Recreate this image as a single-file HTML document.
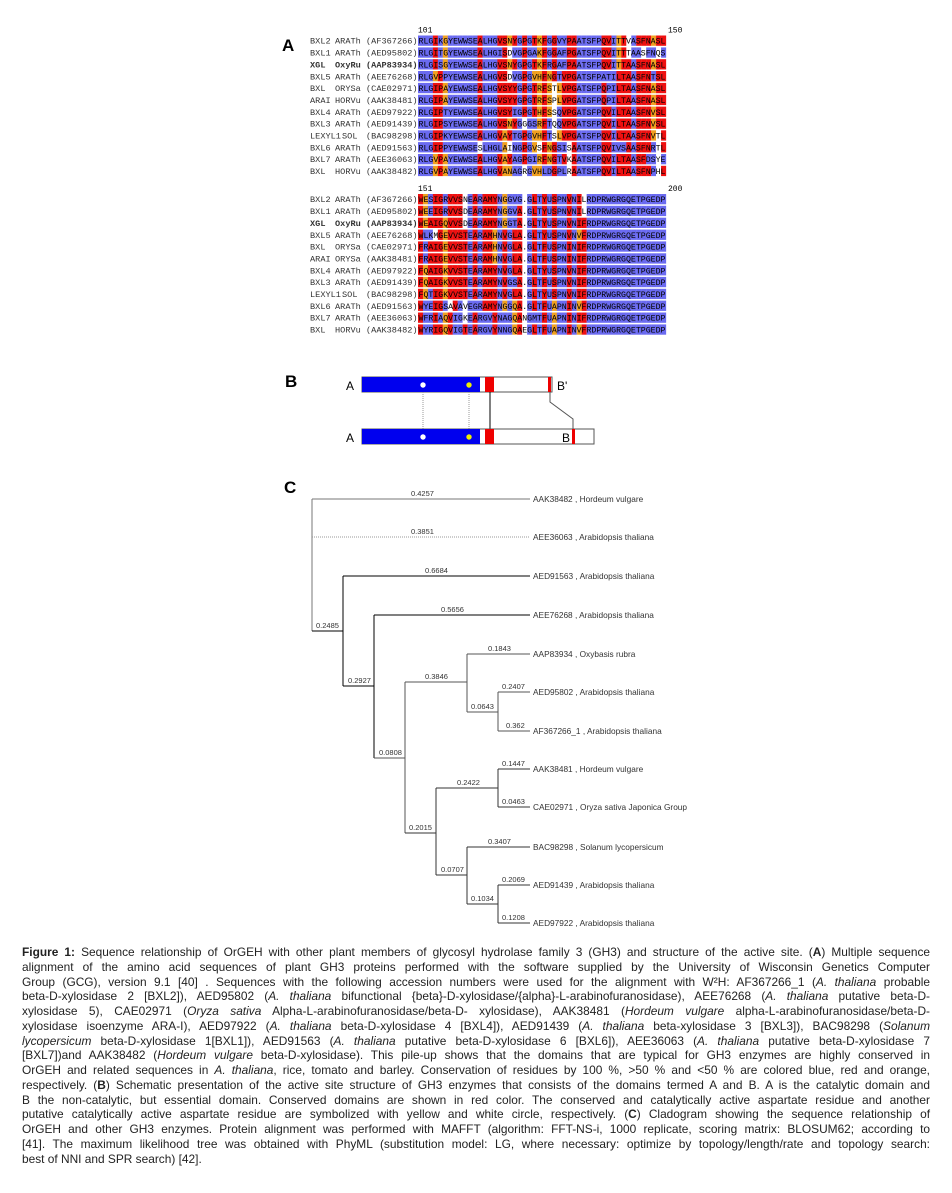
<!DOCTYPE html>
<html><head><meta charset="utf-8"><style>
body{margin:0;background:#fff;width:952px;height:1193px;position:relative;overflow:hidden;font-family:"Liberation Sans",sans-serif}
.cap{position:absolute;left:22px;width:908px;top:945px;font-size:11.9px;line-height:14.75px;color:#222}
.cap div{text-align:justify;text-align-last:justify;white-space:nowrap;overflow:visible}
.cap div.l{text-align-last:left}
.lbl{position:absolute;font-weight:bold;font-size:17px;font-family:"Liberation Sans",sans-serif}
</style></head><body>
<div class="lbl" style="left:282px;top:36px">A</div>
<div class="lbl" style="left:285px;top:372px">B</div>
<div class="lbl" style="left:284px;top:478px">C</div>
<svg id="aln" width="952" height="340" style="position:absolute;left:0;top:0" font-family="Liberation Mono,monospace" font-size="8.6"></svg>

<svg width="952" height="1193" style="position:absolute;left:0;top:0" font-family="Liberation Sans,sans-serif">
<g>
<text x="346" y="390" font-size="12">A</text>
<rect x="362" y="377" width="190" height="15" fill="#fff" stroke="#555"/>
<rect x="362" y="377" width="118" height="15" fill="#0000ee"/>
<rect x="485" y="377" width="9" height="15" fill="#ee0000"/>
<rect x="548" y="377" width="3" height="15" fill="#ee0000"/>
<circle cx="423" cy="385" r="2.7" fill="#fff"/><circle cx="469" cy="385" r="2.7" fill="#ee0"/>
<text x="557" y="390" font-size="12">B'</text>
<line x1="423" y1="392" x2="423" y2="429" stroke="#999" stroke-dasharray="1,1"/>
<line x1="469" y1="392" x2="469" y2="429" stroke="#999" stroke-dasharray="1,1"/>
<line x1="490" y1="392" x2="490" y2="429" stroke="#000"/>
<polyline points="550,392 550,402 573,419 573,429" fill="none" stroke="#555"/>
<text x="346" y="442" font-size="12">A</text>
<rect x="362" y="429" width="232" height="15" fill="#fff" stroke="#555"/>
<rect x="362" y="429" width="118" height="15" fill="#0000ee"/>
<rect x="485" y="429" width="9" height="15" fill="#ee0000"/>
<rect x="572" y="429" width="3" height="15" fill="#ee0000"/>
<circle cx="423" cy="437" r="2.7" fill="#fff"/><circle cx="469" cy="437" r="2.7" fill="#ee0"/>
<text x="562" y="442" font-size="12">B</text>
</g>
<g stroke-width="1" fill="none">
<path d="M312 499 V631 M312 499 H530" stroke="#777"/>
<path d="M312 537 H530" stroke="#999" stroke-dasharray="1,1"/>
<path d="M312 631 H343 M343 576 V686 M343 576 H530 M343 686 H374 M374 615 V758 M374 615 H530" stroke="#000"/>
<path d="M374 758 H405 M405 682 V833 M405 682 H467 M467 654 V712 M467 654 H530 M467 712 H498 M498 692 V731 M498 692 H530 M498 731 H530" stroke="#555"/>
<path d="M405 833 H436 M436 788 V875 M436 788 H498 M498 769 V807 M498 769 H530 M498 807 H530 M436 875 H467 M467 847 V904 M467 847 H530 M467 904 H498 M498 885 V923 M498 885 H530 M498 923 H530" stroke="#333"/>
</g>
<g font-size="7.5" fill="#333">
<text x="411" y="496">0.4257</text><text x="411" y="534">0.3851</text>
<text x="425" y="573">0.6684</text><text x="441" y="612">0.5656</text>
<text x="316" y="628">0.2485</text><text x="348" y="683">0.2927</text>
<text x="425" y="679">0.3846</text><text x="488" y="651">0.1843</text>
<text x="502" y="689">0.2407</text><text x="471" y="709">0.0643</text>
<text x="506" y="728">0.362</text><text x="379" y="755">0.0808</text>
<text x="502" y="766">0.1447</text><text x="457" y="785">0.2422</text>
<text x="502" y="804">0.0463</text><text x="409" y="830">0.2015</text>
<text x="488" y="844">0.3407</text><text x="441" y="872">0.0707</text>
<text x="502" y="882">0.2069</text><text x="471" y="901">0.1034</text>
<text x="502" y="920">0.1208</text>
</g>
<g font-size="8.3" fill="#333">
<text x="533" y="502">AAK38482 ,  Hordeum vulgare</text>
<text x="533" y="540">AEE36063 ,  Arabidopsis thaliana</text>
<text x="533" y="579">AED91563 ,  Arabidopsis thaliana</text>
<text x="533" y="618">AEE76268 ,  Arabidopsis thaliana</text>
<text x="533" y="657">AAP83934 ,  Oxybasis rubra</text>
<text x="533" y="695">AED95802 ,  Arabidopsis thaliana</text>
<text x="533" y="734">AF367266_1 ,  Arabidopsis thaliana</text>
<text x="533" y="772">AAK38481 ,  Hordeum vulgare</text>
<text x="533" y="810">CAE02971 ,  Oryza sativa Japonica Group</text>
<text x="533" y="850">BAC98298 ,  Solanum lycopersicum</text>
<text x="533" y="888">AED91439 ,  Arabidopsis thaliana</text>
<text x="533" y="926">AED97922 ,  Arabidopsis thaliana</text>
</g>
</svg>

<div class="cap">
<div><b>Figure 1:</b> Sequence relationship of OrGEH with other plant members of glycosyl hydrolase family 3 (GH3) and structure of the active site. (<b>A</b>) Multiple sequence</div>
<div>alignment of the amino acid sequences of plant GH3 proteins performed with the software supplied by the University of Wisconsin Genetics Computer</div>
<div>Group (GCG), version 9.1 [40] . Sequences with the following accession numbers were used for the alignment with W²H: AF367266_1 (<i>A. thaliana</i> probable</div>
<div>beta-D-xylosidase 2 [BXL2]), AED95802 (<i>A. thaliana</i> bifunctional {beta}-D-xylosidase/{alpha}-L-arabinofuranosidase), AEE76268 (<i>A. thaliana</i> putative beta-D-</div>
<div>xylosidase 5), CAE02971 (<i>Oryza sativa</i> Alpha-L-arabinofuranosidase/beta-D- xylosidase), AAK38481 (<i>Hordeum vulgare</i> alpha-L-arabinofuranosidase/beta-D-</div>
<div>xylosidase isoenzyme ARA-I), AED97922 (<i>A. thaliana</i> beta-D-xylosidase 4 [BXL4]), AED91439 (<i>A. thaliana</i> beta-xylosidase 3 [BXL3]), BAC98298 (<i>Solanum</i></div>
<div><i>lycopersicum</i> beta-D-xylosidase 1[BXL1]), AED91563 (<i>A. thaliana</i> putative beta-D-xylosidase 6 [BXL6]), AEE36063 (<i>A. thaliana</i> putative beta-D-xylosidase 7</div>
<div>[BXL7])and AAK38482 (<i>Hordeum vulgare</i> beta-D-xylosidase). This pile-up shows that the domains that are typical for GH3 enzymes are highly conserved in</div>
<div>OrGEH and related sequences in <i>A. thaliana</i>, rice, tomato and barley. Conservation of residues by 100 %, &gt;50 % and &lt;50 % are colored blue, red and orange,</div>
<div>respectively. (<b>B</b>) Schematic presentation of the active site structure of GH3 enzymes that consists of the domains termed A and B. A is the catalytic domain and</div>
<div>B the non-catalytic, but essential domain. Conserved domains are shown in red color. The conserved and catalytically active aspartate residue and another</div>
<div>putative catalytically active aspartate residue are symbolized with yellow and white circle, respectively. (<b>C</b>) Cladogram showing the sequence relationship of</div>
<div>OrGEH and other GH3 enzymes. Protein alignment was performed with MAFFT (algorithm: FFT-NS-i, 1000 replicate, scoring matrix: BLOSUM62; according to</div>
<div>[41]. The maximum likelihood tree was obtained with PhyML (substitution model: LG, where necessary: optimize by topology/length/rate and topology search:</div>
<div class="l">best of NNI and SPR search) [42].</div>
</div>

<script>
var names1=[["BXL2","ARATh","(AF367266)"],["BXL1","ARATh","(AED95802)"],["XGL","OxyRu","(AAP83934)"],["BXL5","ARATh","(AEE76268)"],["BXL","ORYSa","(CAE02971)"],["ARAI","HORVu","(AAK38481)"],["BXL4","ARATh","(AED97922)"],["BXL3","ARATh","(AED91439)"],["LEXYL1","SOL","(BAC98298)"],["BXL6","ARATh","(AED91563)"],["BXL7","ARATh","(AEE36063)"],["BXL","HORVu","(AAK38482)"]];
var names2=names1.slice();names2[5]=["ARAI","ORYSa","(AAK38481)"];
var s1=["RLGIKGYEWWSEALHGVSNYGPGTKFGGVYPAATSFPQVITTVASFNASL",
"RLGITGYEWWSEALHGISDVGPGAKFGGAFPGATSFPQVITTTAASFNQS",
"RLGISGYEWWSEALHGVSNYGPGTKFRGAFPAATSFPQVITTAASFNASL",
"RLGVPPYEWWSEALHGVSDVGPGVHFNGTVPGATSFPATILTAASFNTSL",
"RLGIPAYEWWSEALHGVSYYGPGTRFSTLVPGATSFPQPILTAASFNASL",
"RLGIPAYEWWSEALHGVSYYGPGTRFSPLVPGATSFPQPILTAASFNASL",
"RLGIPTYEWWSEALHGVSYIGPGTHFSSQVPGATSFPQVILTAASFNVSL",
"RLGIPSYEWWSEALHGVSNYGGGSRFTQQVPGATSFPQVILTAASFNVSL",
"RLGIPKYEWWSEALHGVAYTGPGVHFTSLVPGATSFPQVILTAASFNVTL",
"RLGIPPYEWWSESLHGLAINGPGVSFNGSISAATSFPQVIVSAASFNRTL",
"RLGVPAYEWWSEALHGVAYAGPGIRFNGTVKAATSFPQVILTAASFDSYE",
"RLGVPAYEWWSEALHGVANAGRGVHLDGPLRAATSFPQVILTAASFNPHL"];
var s2=["WESIGRVVSNEARAMYNGGVG.GLTYUSPNVNILRDPRWGRGQETPGEDP",
"WEEIGRVVSDEARAMYNGGVA.GLTYUSPNVNILRDPRWGRGQETPGEDP",
"WEAIGQVVSDEARAMYNGGTA.GLTYUSPNVNIFRDPRWGRGQETPGEDP",
"WLKMGEVVSTEARAMHNVGLA.GLTYUSPNVNVFRDPRWGRGQETPGEDP",
"FRAIGEVVSTEARAMHNVGLA.GLTFUSPNINIFRDPRWGRGQETPGEDP",
"FRAIGEVVSTEARAMHNVGLA.GLTFUSPNINIFRDPRWGRGQETPGEDP",
"FQAIGKVVSTEARAMYNVGLA.GLTYUSPNVNIFRDPRWGRGQETPGEDP",
"FQAIGKVVSTEARAMYNVGSA.GLTFUSPNVNIFRDPRWGRGQETPGEDP",
"FQTIGKVVSTEARAMYNVGLA.GLTYUSPNVNIFRDPRWGRGQETPGEDP",
"WYEIGSAVAVEGRAMYNGGQA.GLTFUAPNINVFRDPRWGRGQETPGEDP",
"WFRIAQVIGKEARGVYNAGQANGMTFUAPNINIFRDPRWGRGQETPGEDP",
"WYRIGQVIGTEARGVYNNGQAEGLTFUAPNINVFRDPRWGRGQETPGEDP"];
var svg=document.getElementById('aln'),h='';
function block(names,seqs,top,n0,n1){
 var cw=4.96,rh=11.85,x0=418;
 h+='<text x="418" y="'+(top-3)+'" font-size="8">'+n0+'</text><text x="668" y="'+(top-3)+'" font-size="8">'+n1+'</text>';
 for(var c=0;c<50;c++){
  var cnt={};seqs.forEach(function(s){var ch=s[c]||'.';cnt[ch]=(cnt[ch]||0)+1;});
  seqs.forEach(function(s,r){var ch=s[c]||'.';var k=cnt[ch];var col=null;
   if(ch=='.')col=null;else if(k>=12)col='#6a6af0';else if(k>=5)col='#ee1010';else if(k>=3)col='#f0a020';else col=(c%3==0)?'#fff':'#6a6af0';
   var y=top+r*rh;
   if(col)h+='<rect x="'+(x0+c*cw).toFixed(2)+'" y="'+y.toFixed(1)+'" width="5.1" height="10.3" fill="'+col+'"/>';
  });
 }
 seqs.forEach(function(s,r){var y=top+r*rh+8.2;
  h+='<text x="418.5" y="'+y.toFixed(1)+'" textLength="247" lengthAdjust="spacingAndGlyphs">'+s.slice(0,50)+'</text>';
  var nm=names[r],b=r==2?' font-weight="bold"':'';
  var x2=nm[0].length>4?342:335;
  h+='<text x="310" y="'+y.toFixed(1)+'"'+b+' fill="#333">'+nm[0]+'</text><text x="'+x2+'" y="'+y.toFixed(1)+'"'+b+' fill="#333">'+nm[1]+'</text><text x="366" y="'+y.toFixed(1)+'"'+b+' fill="#333">'+nm[2]+'</text>';
 });
}
block(names1,s1,35.5,101,150);
block(names2,s2,194,151,200);
svg.innerHTML=h;
</script>
</body></html>
